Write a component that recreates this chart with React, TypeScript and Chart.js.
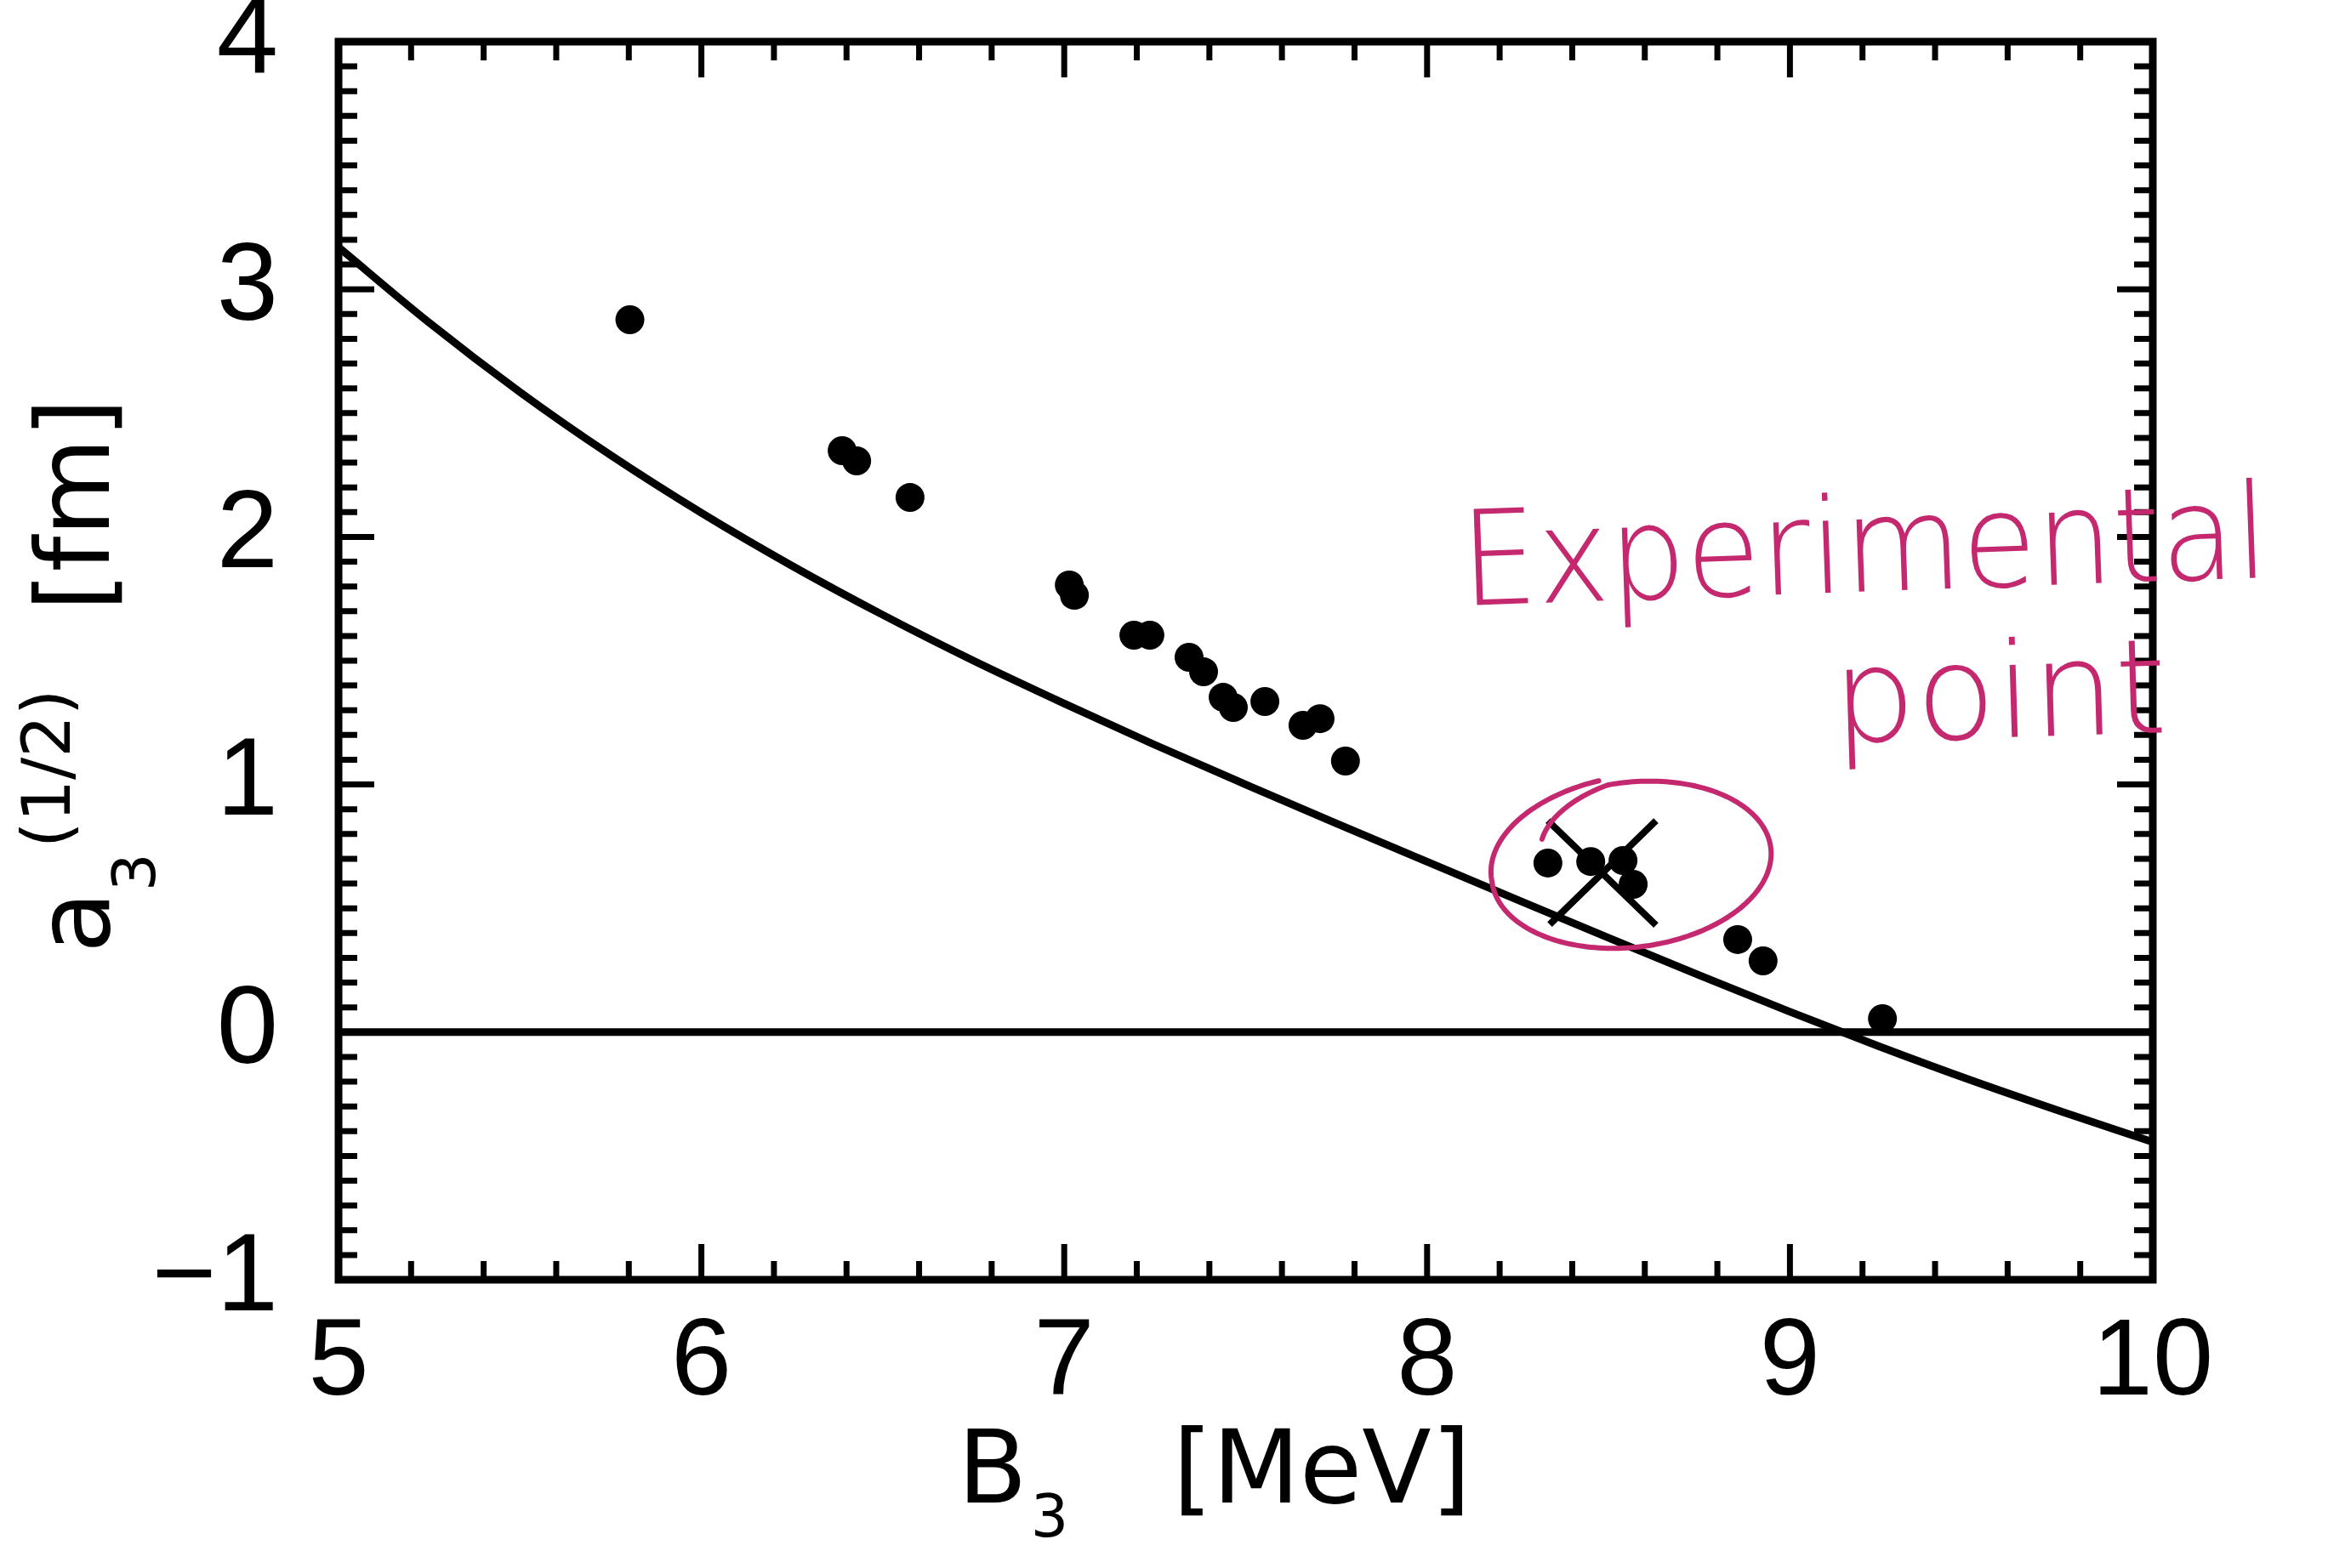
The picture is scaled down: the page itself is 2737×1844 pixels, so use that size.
import React, { useEffect, useRef } from 'react';
import { Chart, registerables } from 'chart.js';

Chart.register(...registerables);

const WIDTH = 2737;
const HEIGHT = 1844;

// ---- axes ----
const xRange = [5, 10];
const yRange = [-1, 4];
const xTickStep = 0.2;
const yTickStep = 0.1;
const xTickLabels = ['5', '6', '7', '8', '9', '10'];
const yTickLabels = ['\u22121', '0', '1', '2', '3', '4'];

// ---- titles ----
const xTitleMain = 'B';
const xTitleSub = '3';
const xTitleUnit = '[MeV]';
const yTitleMain = 'a';
const yTitleSub = '3';
const yTitleSup = '(1/2)';
const yTitleUnit = '[fm]';

// ---- calculated points (B3 [MeV], a3 [fm]) ----
const pointsB3 = [5.803, 6.388, 6.428, 6.575, 7.014, 7.028, 7.192, 7.236, 7.344, 7.384, 7.438, 7.466, 7.553, 7.658, 7.705, 7.775, 8.333, 8.451, 8.540, 8.568, 8.856, 8.926, 9.255];
const pointsA3 = [2.877, 2.348, 2.307, 2.159, 1.806, 1.764, 1.603, 1.603, 1.514, 1.455, 1.352, 1.311, 1.335, 1.239, 1.266, 1.095, 0.683, 0.689, 0.693, 0.597, 0.374, 0.288, 0.054];

// ---- curve ----
const curveB3 = [5.0, 5.25, 5.5, 5.75, 6.0, 6.25, 6.5, 6.75, 7.0, 7.25, 7.5, 7.75, 8.0, 8.25, 8.5, 8.75, 9.0, 9.25, 9.5, 9.75, 10.0];
const curveA3 = [3.17, 2.865, 2.585, 2.33, 2.097, 1.883, 1.685, 1.5, 1.327, 1.16, 1.0, 0.843, 0.688, 0.534, 0.381, 0.23, 0.082, -0.06, -0.195, -0.322, -0.444];

// ---- zero line ----
const zeroLineB3 = [5, 10];
const zeroLineA3 = [0, 0];

// ---- experimental point (cross) ----
const crossArm1B3 = [8.333, 8.631];
const crossArm1A3 = [0.854, 0.432];
const crossArm2B3 = [8.631, 8.338];
const crossArm2A3 = [0.854, 0.435];

// ---- hand annotation ----
const noteEllipse = { cx: 8.563, cy: 0.676, rx: 0.387, ry: 0.333, rot: -0.12 };
const noteTexts = [
  { text: 'Experimental', x: 8.097, y: 1.723, w: 2.227, rot: -0.035 },
  { text: 'point', x: 9.121, y: 1.17, w: 0.921, rot: -0.03 },
];

const PINK = 'rgb(196, 40, 110)';
const TICK_FONT = '"Liberation Sans", Arial, sans-serif';
const TITLE_FONT = '"DejaVu Sans", sans-serif';

const zip = (xs: number[], ys: number[]) => xs.map((x, i) => ({ x, y: ys[i] }));
const isMajor = (v: number) => Math.abs(v - Math.round(v)) < 1e-6;

const frameTicksPlugin = {
  id: 'frameTicks',
  afterDatasetsDraw(chart: any) {
    const { ctx, chartArea: a, scales } = chart;
    const xs = scales.x;
    const ys = scales.y;
    ctx.save();
    ctx.strokeStyle = '#000';
    ctx.lineCap = 'butt';
    ctx.lineWidth = 7;
    ctx.beginPath();
    xs.ticks.forEach((t: any) => {
      const v = t.value;
      if (v <= xs.min + 1e-6 || v >= xs.max - 1e-6) return;
      const p = xs.getPixelForValue(v);
      const len = isMajor(v) ? 42 : 22;
      ctx.moveTo(p, a.bottom);
      ctx.lineTo(p, a.bottom - len);
      ctx.moveTo(p, a.top);
      ctx.lineTo(p, a.top + len);
    });
    ys.ticks.forEach((t: any) => {
      const v = t.value;
      if (v <= ys.min + 1e-6 || v >= ys.max - 1e-6) return;
      const p = ys.getPixelForValue(v);
      const len = isMajor(v) ? 42 : 22;
      ctx.moveTo(a.left, p);
      ctx.lineTo(a.left + len, p);
      ctx.moveTo(a.right, p);
      ctx.lineTo(a.right - len, p);
    });
    ctx.stroke();
    ctx.lineWidth = 9;
    ctx.strokeRect(a.left, a.top, a.right - a.left, a.bottom - a.top);
    ctx.restore();
  },
};

const titlesPlugin = {
  id: 'axisTitles',
  afterDraw(chart: any) {
    const { ctx, chartArea: a } = chart;
    ctx.save();
    ctx.fillStyle = '#000';
    ctx.textBaseline = 'alphabetic';
    ctx.textAlign = 'left';
    // x title
    const x0 = a.left + 728;
    const by = a.bottom + 262;
    ctx.font = `119px ${TITLE_FONT}`;
    ctx.fillText(xTitleMain, x0, by);
    const wB = ctx.measureText(xTitleMain).width;
    ctx.font = `70px ${TITLE_FONT}`;
    ctx.fillText(xTitleSub, x0 + wB + 4, by + 40);
    ctx.font = `119px ${TITLE_FONT}`;
    ctx.fillText(xTitleUnit, x0 + 253, by);
    // y title (rotated)
    ctx.translate(a.left - 270, a.bottom - 384);
    ctx.rotate(-Math.PI / 2);
    ctx.font = `119px ${TITLE_FONT}`;
    ctx.fillText(yTitleMain, 0, 0);
    ctx.font = `70px ${TITLE_FONT}`;
    ctx.fillText(yTitleSub, 73, 54);
    ctx.font = `78px ${TITLE_FONT}`;
    ctx.fillText(yTitleSup, 124, -46);
    ctx.font = `119px ${TITLE_FONT}`;
    ctx.fillText(yTitleUnit, 402, 0);
    ctx.restore();
  },
};

const notePlugin = {
  id: 'handNote',
  afterDraw(chart: any) {
    const { ctx, scales } = chart;
    const xs = scales.x;
    const ys = scales.y;
    ctx.save();
    ctx.strokeStyle = PINK;
    ctx.fillStyle = PINK;
    ctx.lineWidth = 6;
    ctx.lineCap = 'round';
    ctx.lineJoin = 'round';
    const E = noteEllipse;
    const cx = xs.getPixelForValue(E.cx);
    const cy = ys.getPixelForValue(E.cy);
    const rx = Math.abs(xs.getPixelForValue(E.cx + E.rx) - cx);
    const ry = Math.abs(ys.getPixelForValue(E.cy + E.ry) - cy);
    const t0 = -1.72;
    const sweep = 2 * Math.PI + 0.8;
    const N = 240;
    ctx.beginPath();
    for (let i = 0; i <= N; i++) {
      const s = i / N;
      const t = t0 - s * sweep;
      const f = 1.07 - 0.07 * Math.min(s / 0.2, 1) - (s > 0.88 ? ((s - 0.88) / 0.12) * 0.25 : 0);
      const ex = rx * f * Math.cos(t);
      const ey = ry * f * Math.sin(t);
      const px = cx + ex * Math.cos(E.rot) - ey * Math.sin(E.rot);
      const py = cy + ex * Math.sin(E.rot) + ey * Math.cos(E.rot);
      if (i === 0) ctx.moveTo(px, py);
      else ctx.lineTo(px, py);
    }
    ctx.stroke();
    ctx.textBaseline = 'alphabetic';
    ctx.textAlign = 'left';
    ctx.font = `200 155px "DejaVu Sans", sans-serif`;
    noteTexts.forEach((n) => {
      const px = xs.getPixelForValue(n.x);
      const py = ys.getPixelForValue(n.y);
      const targetW = xs.getPixelForValue(n.x + n.w) - px;
      const m = ctx.measureText(n.text).width;
      ctx.save();
      ctx.translate(px, py);
      ctx.rotate(n.rot);
      ctx.scale(targetW / m, 1);
      ctx.fillText(n.text, 0, 0);
      ctx.restore();
    });
    ctx.restore();
  },
};

export default function App() {
  const ref = useRef<HTMLCanvasElement>(null);
  useEffect(() => {
    const canvas = ref.current;
    if (!canvas) return;
    const lineStyle = {
      showLine: true,
      borderColor: '#000',
      backgroundColor: '#000',
      borderWidth: 9,
      pointRadius: 0,
      pointHoverRadius: 0,
      fill: false,
    };
    const chart = new Chart(canvas, {
      type: 'scatter',
      data: {
        datasets: [
          {
            label: 'points',
            data: zip(pointsB3, pointsA3),
            backgroundColor: '#000',
            borderColor: '#000',
            borderWidth: 0,
            pointRadius: 17,
            pointHoverRadius: 17,
          },
          { label: 'curve', data: zip(curveB3, curveA3), ...lineStyle, cubicInterpolationMode: 'monotone' },
          { label: 'zero', data: zip(zeroLineB3, zeroLineA3), ...lineStyle },
          { label: 'cross1', data: zip(crossArm1B3, crossArm1A3), ...lineStyle, borderWidth: 8 },
          { label: 'cross2', data: zip(crossArm2B3, crossArm2A3), ...lineStyle, borderWidth: 8 },
        ] as any,
      },
      options: {
        responsive: false,
        animation: false,
        devicePixelRatio: 1,
        layout: { padding: { top: 49, right: 206, left: 0, bottom: 0 } },
        plugins: {
          legend: { display: false },
          tooltip: { enabled: false },
          title: { display: false },
        },
        events: [],
        scales: {
          x: {
            type: 'linear',
            min: xRange[0],
            max: xRange[1],
            grid: { display: false, drawTicks: false },
            border: { display: false },
            ticks: {
              stepSize: xTickStep,
              autoSkip: false,
              maxRotation: 0,
              minRotation: 0,
              padding: 23,
              color: '#000',
              font: { family: TICK_FONT, size: 128 },
              callback: (v: any) => {
                const n = Number(v);
                return isMajor(n) ? xTickLabels[Math.round(n) - xRange[0]] : '';
              },
            },
            afterFit: (s: any) => {
              s.height = HEIGHT - 1505;
              s.paddingLeft = 0;
              s.paddingRight = 0;
            },
          },
          y: {
            type: 'linear',
            min: yRange[0],
            max: yRange[1],
            grid: { display: false, drawTicks: false },
            border: { display: false },
            ticks: {
              stepSize: yTickStep,
              autoSkip: false,
              padding: 71,
              color: '#000',
              font: { family: TICK_FONT, size: 130 },
              callback: (v: any) => {
                const n = Number(v);
                return isMajor(n) ? yTickLabels[Math.round(n) - yRange[0]] : '';
              },
            },
            afterFit: (s: any) => {
              s.width = 398;
              s.paddingTop = 0;
              s.paddingBottom = 0;
            },
          },
        },
      } as any,
      plugins: [frameTicksPlugin, titlesPlugin, notePlugin],
    });
    return () => chart.destroy();
  }, []);
  return (
    <div style={{ position: 'fixed', left: 0, top: 0, width: WIDTH, height: HEIGHT, background: '#fff' }}>
      <canvas ref={ref} width={WIDTH} height={HEIGHT} style={{ display: 'block', width: WIDTH, height: HEIGHT }} />
    </div>
  );
}
